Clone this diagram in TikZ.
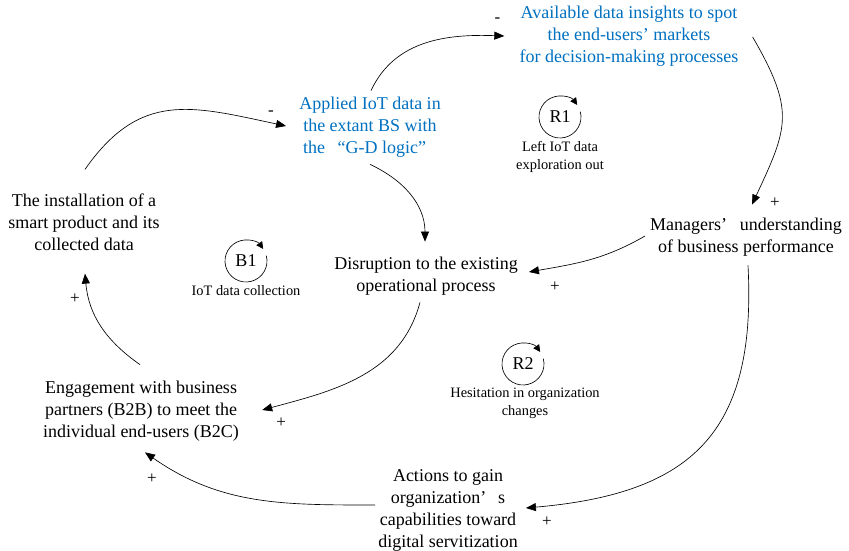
\documentclass[tikz,border=0pt]{standalone}
\usepackage{fontspec}
\setmainfont{Liberation Serif}
\usetikzlibrary{arrows.meta,positioning}
\definecolor{insightblue}{RGB}{0,112,192}
\newcommand{\fwgap}{\hspace{0.7em}}

\begin{document}
\begin{tikzpicture}[x=1pt,y=1pt]
% Diagram style
\tikzset{
    var/.style={align=center, inner sep=1pt, font=\fontsize{18}{22}\selectfont},
    blue var/.style={var, text=insightblue},
    link/.style={-{Triangle[length=10pt,width=8pt]}, line width=0.65pt},
    sign/.style={inner sep=0pt, font=\fontsize{17}{17}\selectfont},
    loop mark/.style={circle, minimum size=42pt, inner sep=0pt, font=\fontsize{18}{18}\selectfont},
    loop name/.style={align=center, inner sep=1pt, font=\fontsize{14.4}{18}\selectfont},
    loop arc/.style={-{Triangle[length=7pt,width=7pt]}, line width=0.65pt}
}
\useasboundingbox (0,0) rectangle (849,551);

% Nodes
\node[blue var] (AVAIL) at (629,515) {Available data insights to spot\\the end-users’ markets\\for decision-making processes};
\node[blue var] (APPL) at (370,424) {Applied IoT data in\\the extant BS with\\the\fwgap“G-D logic”\hspace*{0.6em}};
\node[var] (INST) at (84,329) {The installation of a\\smart product and its\\collected data};
\node[var] (MGR) at (746,314) {Managers’\fwgap understanding\\of business performance};
\node[var] (DISR) at (426,275) {Disruption to the existing\\operational process};
\node[var] (ENG) at (141,140) {Engagement with business\\partners (B2B) to meet the\\individual end-users (B2C)};
\node[var] (ACT) at (448,41) {Actions to gain\\organization’\hspace{0.65em}s\\capabilities toward\\digital servitization};

% Loops
\node[loop mark] (R1) at (560,434) {R1};
\node[loop name, below=2pt of R1] (R1TXT) {Left IoT data\\exploration out};
\draw[loop arc] ([shift={(15:21pt)}]R1.center) arc[start angle=15, end angle=-325, radius=21pt];

\node[loop mark] (B1) at (246,290) {B1};
\node[loop name, below=2pt of B1] (B1TXT) {IoT data collection};
\draw[loop arc] ([shift={(15:21pt)}]B1.center) arc[start angle=15, end angle=-325, radius=21pt];

\node[loop mark] (R2) at (523,187) {R2};
\node[loop name, below=2pt of R2, xshift=2pt] (R2TXT) {Hesitation in organization\\changes};
\draw[loop arc] ([shift={(15:21pt)}]R2.center) arc[start angle=15, end angle=-325, radius=21pt];

% Connections
\draw[link] ([shift={(1,23)}]INST.north) to[out=55,in=168,looseness=1.2] node[sign, pos=1, xshift=-15pt, yshift=13pt] {-} ([shift={(-12,1)}]APPL.west);
\draw[link] ([shift={(1,5)}]APPL.north) to[out=65,in=178] node[sign, pos=1, xshift=-7pt, yshift=16pt] {-} ([shift={(-14,0)}]AVAIL.west);
\draw[link] ([shift={(13,-1)}]AVAIL.east) to[out=-60,in=65,looseness=1.3] node[sign, pos=1, xshift=23pt, yshift=2pt] {+} ([shift={(6,12)}]MGR.north);
\draw[link] ([shift={(-4,1)}]MGR.west) to[out=210,in=10] node[sign, pos=1, xshift=26pt, yshift=-15pt] {+} ([shift={(10,4)}]DISR.east);
\draw[link] ([shift={(0,-6)}]APPL.south) to[out=-25,in=90] ([shift={(-1,14)}]DISR.north);
\draw[link] ([shift={(-6,-6)}]DISR.south) to[out=-105,in=15] node[sign, pos=1, xshift=19pt, yshift=-13pt] {+} ([shift={(22,1)}]ENG.east);
\draw[link] ([shift={(-1,15)}]ENG.north) to[out=145,in=-85] node[sign, pos=1, xshift=-10pt, yshift=-25pt] {+} ([shift={(1,-22)}]INST.south);
\draw[link] ([shift={(2,-8)}]MGR.south) to[out=-87,in=5,looseness=1.3] node[sign, pos=1, xshift=21pt, yshift=-14pt] {+} ([shift={(7,2)}]ACT.east);
\draw[link] ([shift={(-2,5)}]ACT.west) to[out=180,in=-35] node[sign, pos=1, xshift=7pt, yshift=-26pt] {+} ([shift={(4,-10)}]ENG.south);
\end{tikzpicture}
\end{document}
